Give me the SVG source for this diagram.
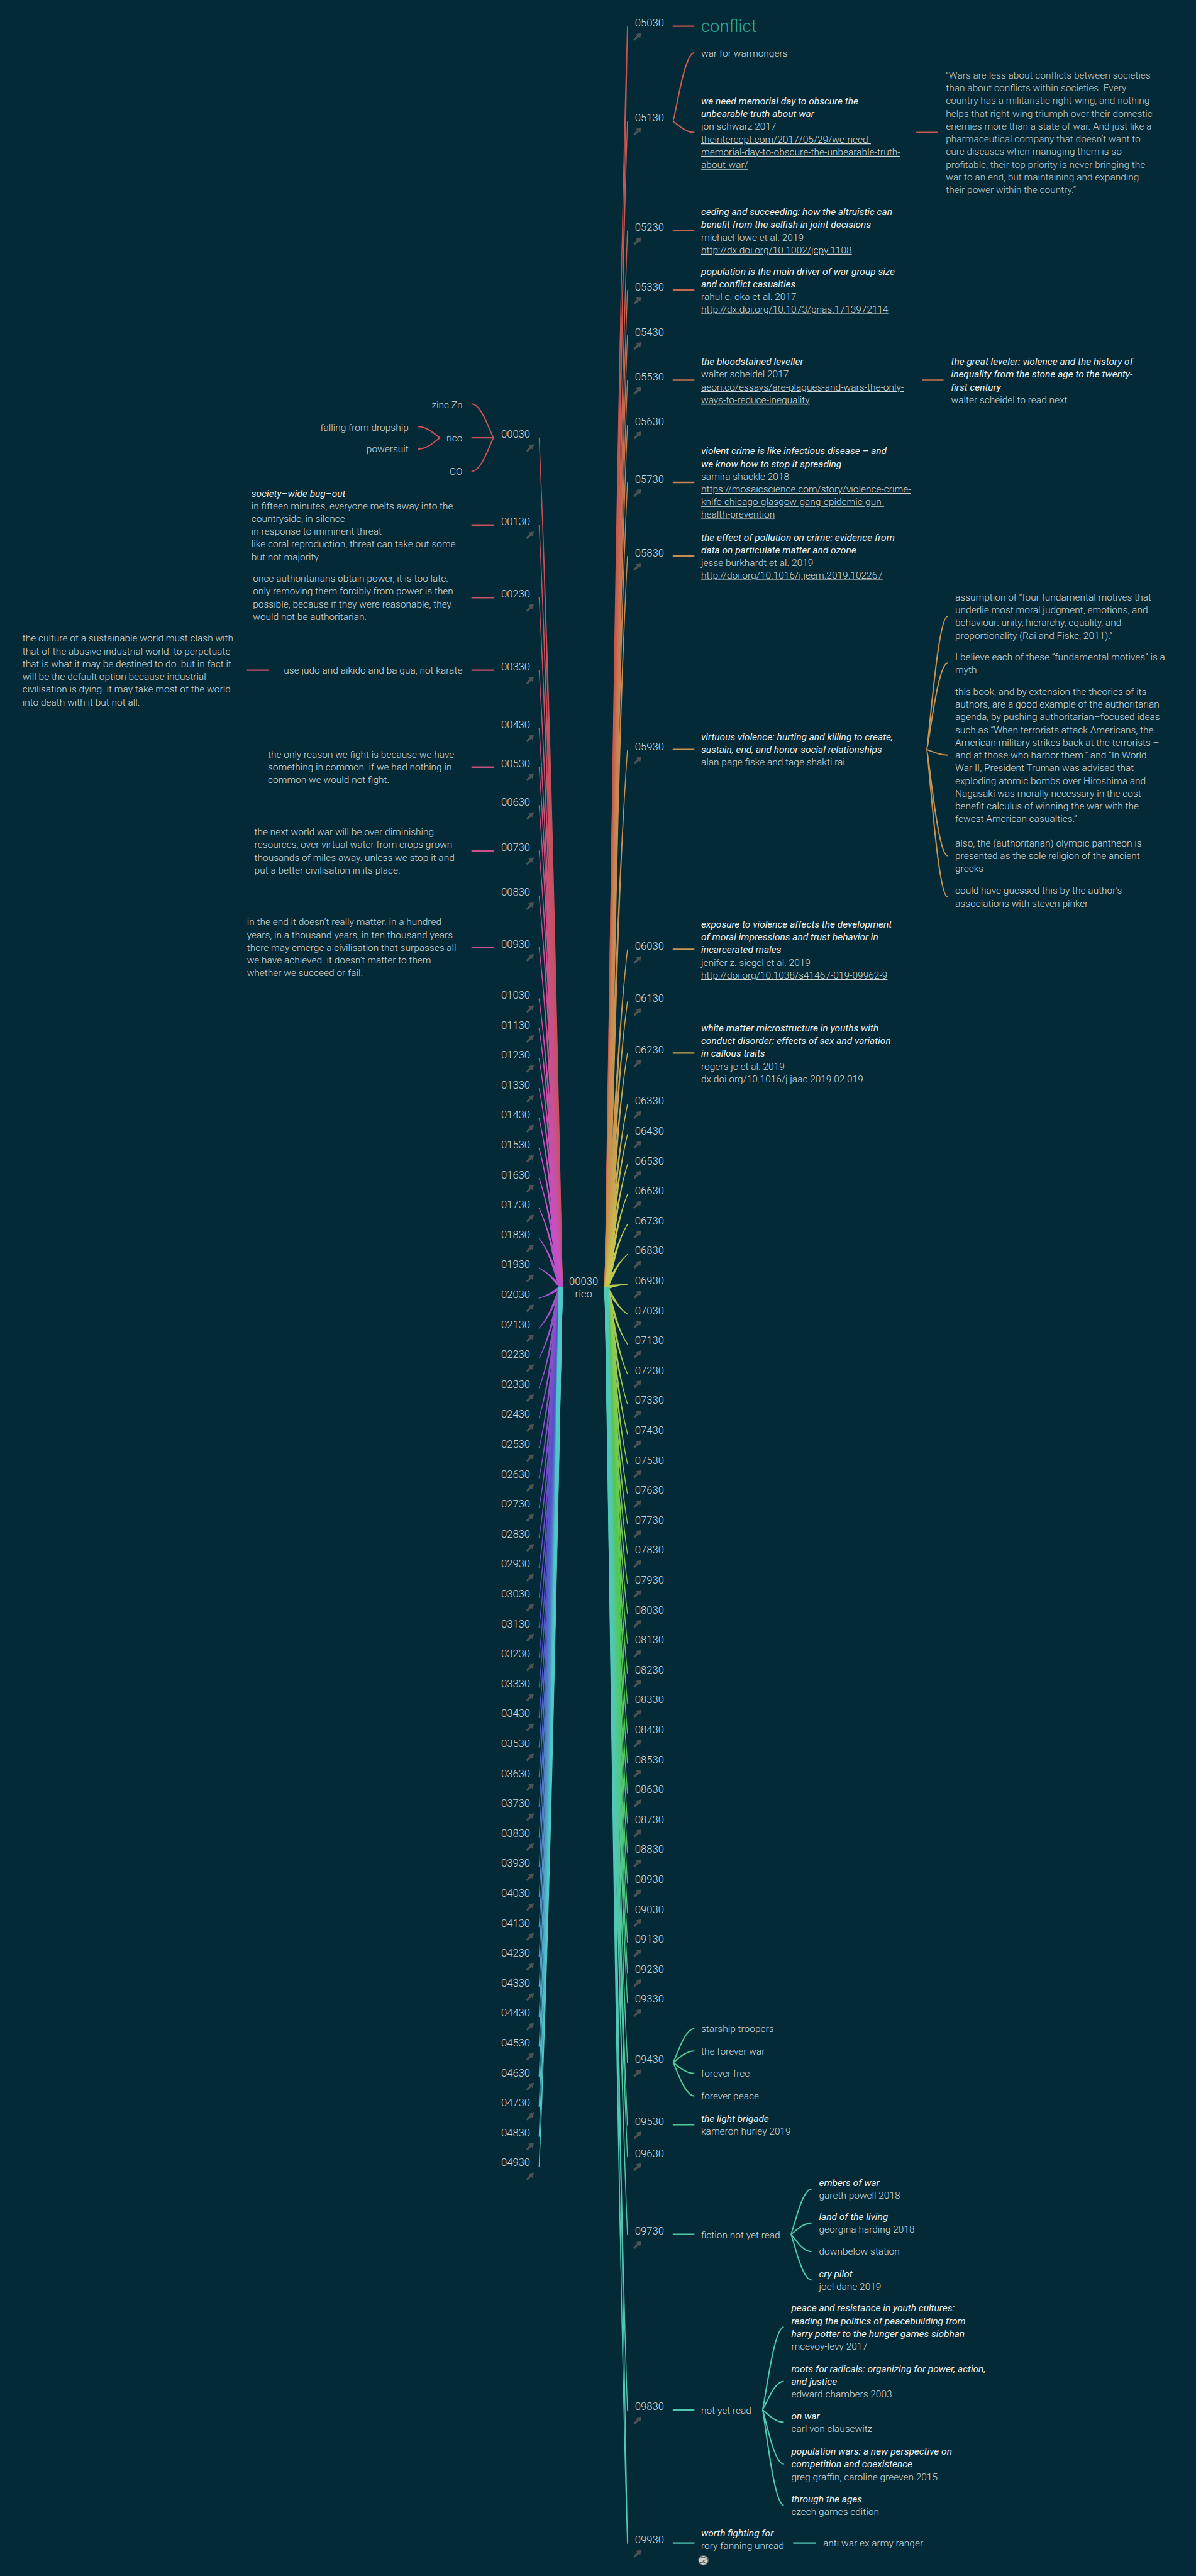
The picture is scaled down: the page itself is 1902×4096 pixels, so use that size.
<svg xmlns="http://www.w3.org/2000/svg" width="1902" height="4096" viewBox="0 0 1902 4096">
<style>
.n{font:300 28px Roboto,'Liberation Sans',sans-serif;fill:#d9dede}
.t{font:300 26px Roboto,'Liberation Sans',sans-serif;fill:#d3d9d9}
.i{font-style:italic;font-weight:400;fill:#eef1f1}
.u{text-decoration:underline}
.q{fill:#c4cccc}
.c{font-size:46px;fill:#2ea79b}
.e{text-anchor:end}
.m{text-anchor:middle}
.st{fill:none;stroke-width:4}
.br{fill:none;stroke-width:3.5}
.sl{stroke-width:2.4;stroke-linejoin:round}
</style>
<defs>
<path id="arr" d="M22,0 L19,15 L15,11 L5,21 L1,17 L11,7 L7,3 Z" fill="#4f5253"/>
</defs>
<rect width="1902" height="4096" fill="#032a36"/>
<g transform="scale(0.595)">
<g id="connectors">
<g id="strands-left" class="sl">
<path fill="hsl(356,52%,55%)" stroke="hsl(356,52%,55%)" d="M1441 1170 C1466 1738 1476 2419 1495 3440 L1503 3440 C1482 2419 1466 1738 1441 1170 Z"/>
<path fill="hsl(352,52%,55%)" stroke="hsl(352,52%,55%)" d="M1441 1403 C1466 1912 1476 2523 1495 3440 L1503 3440 C1482 2523 1466 1912 1441 1403 Z"/>
<path fill="hsl(349,52%,55%)" stroke="hsl(349,52%,55%)" d="M1441 1597 C1466 2058 1476 2611 1495 3440 L1503 3440 C1482 2611 1466 2058 1441 1597 Z"/>
<path fill="hsl(345,52%,55%)" stroke="hsl(345,52%,55%)" d="M1441 1791 C1466 2203 1476 2698 1495 3440 L1503 3440 C1482 2698 1466 2203 1441 1791 Z"/>
<path fill="hsl(342,52%,55%)" stroke="hsl(342,52%,55%)" d="M1441 1946 C1466 2320 1476 2768 1495 3440 L1503 3440 C1482 2768 1466 2320 1441 1946 Z"/>
<path fill="hsl(338,52%,55%)" stroke="hsl(338,52%,55%)" d="M1441 2050 C1466 2398 1476 2815 1495 3440 L1503 3440 C1482 2815 1466 2398 1441 2050 Z"/>
<path fill="hsl(334,52%,55%)" stroke="hsl(334,52%,55%)" d="M1441 2153 C1466 2475 1476 2861 1495 3440 L1503 3440 C1482 2861 1466 2475 1441 2153 Z"/>
<path fill="hsl(331,52%,55%)" stroke="hsl(331,52%,55%)" d="M1441 2274 C1466 2566 1476 2915 1495 3440 L1503 3440 C1482 2915 1466 2566 1441 2274 Z"/>
<path fill="hsl(327,52%,55%)" stroke="hsl(327,52%,55%)" d="M1441 2394 C1466 2656 1476 2969 1495 3440 L1503 3440 C1482 2969 1466 2656 1441 2394 Z"/>
<path fill="hsl(324,52%,55%)" stroke="hsl(324,52%,55%)" d="M1441 2532 C1466 2759 1476 3031 1495 3440 L1503 3440 C1482 3031 1466 2759 1441 2532 Z"/>
<path fill="hsl(320,52%,55%)" stroke="hsl(320,52%,55%)" d="M1441 2669 C1466 2862 1476 3093 1495 3440 L1503 3440 C1482 3093 1466 2862 1441 2669 Z"/>
<path fill="hsl(316,52%,55%)" stroke="hsl(316,52%,55%)" d="M1441 2749 C1466 2922 1476 3129 1495 3440 L1503 3440 C1482 3129 1466 2922 1441 2749 Z"/>
<path fill="hsl(313,52%,55%)" stroke="hsl(313,52%,55%)" d="M1441 2829 C1466 2982 1476 3165 1495 3440 L1503 3440 C1482 3165 1466 2982 1441 2829 Z"/>
<path fill="hsl(309,52%,55%)" stroke="hsl(309,52%,55%)" d="M1441 2909 C1466 3042 1476 3201 1495 3440 L1503 3440 C1482 3201 1466 3042 1441 2909 Z"/>
<path fill="hsl(306,52%,55%)" stroke="hsl(306,52%,55%)" d="M1441 2989 C1466 3102 1476 3237 1495 3440 L1503 3440 C1482 3237 1466 3102 1441 2989 Z"/>
<path fill="hsl(302,52%,55%)" stroke="hsl(302,52%,55%)" d="M1441 3069 C1466 3162 1476 3273 1495 3440 L1503 3440 C1482 3273 1466 3162 1441 3069 Z"/>
<path fill="hsl(298,52%,55%)" stroke="hsl(298,52%,55%)" d="M1441 3149 C1466 3222 1476 3309 1495 3440 L1503 3440 C1482 3309 1466 3222 1441 3149 Z"/>
<path fill="hsl(295,52%,55%)" stroke="hsl(295,52%,55%)" d="M1441 3229 C1466 3282 1476 3345 1495 3440 L1503 3440 C1482 3345 1466 3282 1441 3229 Z"/>
<path fill="hsl(291,52%,55%)" stroke="hsl(291,52%,55%)" d="M1441 3309 C1466 3342 1476 3381 1495 3440 L1503 3440 C1482 3381 1466 3342 1441 3309 Z"/>
<path fill="hsl(288,52%,55%)" stroke="hsl(288,52%,55%)" d="M1441 3389 C1466 3402 1476 3417 1495 3440 L1503 3440 C1482 3417 1466 3402 1441 3389 Z"/>
<path fill="hsl(284,52%,55%)" stroke="hsl(284,52%,55%)" d="M1441 3469 C1466 3462 1479 3450 1499 3436 L1499 3444 C1479 3456 1466 3462 1441 3469 Z"/>
<path fill="hsl(280,52%,55%)" stroke="hsl(280,52%,55%)" d="M1441 3549 C1466 3522 1476 3489 1495 3440 L1503 3440 C1482 3489 1466 3522 1441 3549 Z"/>
<path fill="hsl(277,52%,55%)" stroke="hsl(277,52%,55%)" d="M1441 3629 C1466 3582 1476 3525 1495 3440 L1503 3440 C1482 3525 1466 3582 1441 3629 Z"/>
<path fill="hsl(273,52%,55%)" stroke="hsl(273,52%,55%)" d="M1441 3709 C1466 3642 1476 3561 1495 3440 L1503 3440 C1482 3561 1466 3642 1441 3709 Z"/>
<path fill="hsl(270,52%,55%)" stroke="hsl(270,52%,55%)" d="M1441 3789 C1466 3702 1476 3597 1495 3440 L1503 3440 C1482 3597 1466 3702 1441 3789 Z"/>
<path fill="hsl(266,52%,55%)" stroke="hsl(266,52%,55%)" d="M1441 3869 C1466 3762 1476 3633 1495 3440 L1503 3440 C1482 3633 1466 3762 1441 3869 Z"/>
<path fill="hsl(262,52%,55%)" stroke="hsl(262,52%,55%)" d="M1441 3949 C1466 3822 1476 3669 1495 3440 L1503 3440 C1482 3669 1466 3822 1441 3949 Z"/>
<path fill="hsl(259,52%,55%)" stroke="hsl(259,52%,55%)" d="M1441 4029 C1466 3882 1476 3705 1495 3440 L1503 3440 C1482 3705 1466 3882 1441 4029 Z"/>
<path fill="hsl(255,52%,55%)" stroke="hsl(255,52%,55%)" d="M1441 4109 C1466 3942 1476 3741 1495 3440 L1503 3440 C1482 3741 1466 3942 1441 4109 Z"/>
<path fill="hsl(252,52%,55%)" stroke="hsl(252,52%,55%)" d="M1441 4189 C1466 4002 1476 3777 1495 3440 L1503 3440 C1482 3777 1466 4002 1441 4189 Z"/>
<path fill="hsl(248,52%,55%)" stroke="hsl(248,52%,55%)" d="M1441 4269 C1466 4062 1476 3813 1495 3440 L1503 3440 C1482 3813 1466 4062 1441 4269 Z"/>
<path fill="hsl(244,52%,55%)" stroke="hsl(244,52%,55%)" d="M1441 4349 C1466 4122 1476 3849 1495 3440 L1503 3440 C1482 3849 1466 4122 1441 4349 Z"/>
<path fill="hsl(241,52%,55%)" stroke="hsl(241,52%,55%)" d="M1441 4429 C1466 4182 1476 3885 1495 3440 L1503 3440 C1482 3885 1466 4182 1441 4429 Z"/>
<path fill="hsl(237,52%,55%)" stroke="hsl(237,52%,55%)" d="M1441 4509 C1466 4242 1476 3921 1495 3440 L1503 3440 C1482 3921 1466 4242 1441 4509 Z"/>
<path fill="hsl(234,52%,55%)" stroke="hsl(234,52%,55%)" d="M1441 4589 C1466 4302 1476 3957 1495 3440 L1503 3440 C1482 3957 1466 4302 1441 4589 Z"/>
<path fill="hsl(230,52%,55%)" stroke="hsl(230,52%,55%)" d="M1441 4669 C1466 4362 1476 3993 1495 3440 L1503 3440 C1482 3993 1466 4362 1441 4669 Z"/>
<path fill="hsl(226,52%,55%)" stroke="hsl(226,52%,55%)" d="M1441 4749 C1466 4422 1476 4029 1495 3440 L1503 3440 C1482 4029 1466 4422 1441 4749 Z"/>
<path fill="hsl(223,52%,55%)" stroke="hsl(223,52%,55%)" d="M1441 4829 C1466 4482 1476 4065 1495 3440 L1503 3440 C1482 4065 1466 4482 1441 4829 Z"/>
<path fill="hsl(219,52%,55%)" stroke="hsl(219,52%,55%)" d="M1441 4909 C1466 4542 1476 4101 1495 3440 L1503 3440 C1482 4101 1466 4542 1441 4909 Z"/>
<path fill="hsl(216,52%,55%)" stroke="hsl(216,52%,55%)" d="M1441 4989 C1466 4602 1476 4137 1495 3440 L1503 3440 C1482 4137 1466 4602 1441 4989 Z"/>
<path fill="hsl(212,52%,55%)" stroke="hsl(212,52%,55%)" d="M1441 5069 C1466 4662 1476 4173 1495 3440 L1503 3440 C1482 4173 1466 4662 1441 5069 Z"/>
<path fill="hsl(208,52%,55%)" stroke="hsl(208,52%,55%)" d="M1441 5149 C1466 4722 1476 4209 1495 3440 L1503 3440 C1482 4209 1466 4722 1441 5149 Z"/>
<path fill="hsl(205,52%,55%)" stroke="hsl(205,52%,55%)" d="M1441 5229 C1466 4782 1476 4245 1495 3440 L1503 3440 C1482 4245 1466 4782 1441 5229 Z"/>
<path fill="hsl(201,52%,55%)" stroke="hsl(201,52%,55%)" d="M1441 5309 C1466 4842 1476 4281 1495 3440 L1503 3440 C1482 4281 1466 4842 1441 5309 Z"/>
<path fill="hsl(198,52%,55%)" stroke="hsl(198,52%,55%)" d="M1441 5389 C1466 4902 1476 4317 1495 3440 L1503 3440 C1482 4317 1466 4902 1441 5389 Z"/>
<path fill="hsl(194,52%,55%)" stroke="hsl(194,52%,55%)" d="M1441 5469 C1466 4962 1476 4353 1495 3440 L1503 3440 C1482 4353 1466 4962 1441 5469 Z"/>
<path fill="hsl(190,52%,55%)" stroke="hsl(190,52%,55%)" d="M1441 5549 C1466 5022 1476 4389 1495 3440 L1503 3440 C1482 4389 1466 5022 1441 5549 Z"/>
<path fill="hsl(187,52%,55%)" stroke="hsl(187,52%,55%)" d="M1441 5629 C1466 5082 1476 4425 1495 3440 L1503 3440 C1482 4425 1466 5082 1441 5629 Z"/>
<path fill="hsl(183,52%,55%)" stroke="hsl(183,52%,55%)" d="M1441 5709 C1466 5142 1476 4461 1495 3440 L1503 3440 C1482 4461 1466 5142 1441 5709 Z"/>
<path fill="hsl(180,52%,55%)" stroke="hsl(180,52%,55%)" d="M1441 5789 C1466 5202 1476 4497 1495 3440 L1503 3440 C1482 4497 1466 5202 1441 5789 Z"/>
</g>
<g id="strands-right" class="sl">
<path fill="hsl(2,52%,55%)" stroke="hsl(2,52%,55%)" d="M1677 71 C1652 913 1644 1924 1625 3440 L1617 3440 C1638 1924 1652 913 1677 71 Z"/>
<path fill="hsl(5,52%,55%)" stroke="hsl(5,52%,55%)" d="M1677 324 C1652 1103 1644 2038 1625 3440 L1617 3440 C1638 2038 1652 1103 1677 324 Z"/>
<path fill="hsl(9,52%,55%)" stroke="hsl(9,52%,55%)" d="M1677 617 C1652 1323 1644 2170 1625 3440 L1617 3440 C1638 2170 1652 1323 1677 617 Z"/>
<path fill="hsl(12,52%,55%)" stroke="hsl(12,52%,55%)" d="M1677 776 C1652 1442 1644 2241 1625 3440 L1617 3440 C1638 2241 1652 1442 1677 776 Z"/>
<path fill="hsl(16,52%,55%)" stroke="hsl(16,52%,55%)" d="M1677 897 C1652 1533 1644 2296 1625 3440 L1617 3440 C1638 2296 1652 1533 1677 897 Z"/>
<path fill="hsl(19,52%,55%)" stroke="hsl(19,52%,55%)" d="M1677 1017 C1652 1623 1644 2350 1625 3440 L1617 3440 C1638 2350 1652 1623 1677 1017 Z"/>
<path fill="hsl(23,52%,55%)" stroke="hsl(23,52%,55%)" d="M1677 1136 C1652 1712 1644 2403 1625 3440 L1617 3440 C1638 2403 1652 1712 1677 1136 Z"/>
<path fill="hsl(26,52%,55%)" stroke="hsl(26,52%,55%)" d="M1677 1290 C1652 1828 1644 2473 1625 3440 L1617 3440 C1638 2473 1652 1828 1677 1290 Z"/>
<path fill="hsl(30,52%,55%)" stroke="hsl(30,52%,55%)" d="M1677 1487 C1652 1975 1644 2561 1625 3440 L1617 3440 C1638 2561 1652 1975 1677 1487 Z"/>
<path fill="hsl(33,52%,55%)" stroke="hsl(33,52%,55%)" d="M1677 2005 C1652 2364 1644 2794 1625 3440 L1617 3440 C1638 2794 1652 2364 1677 2005 Z"/>
<path fill="hsl(37,52%,55%)" stroke="hsl(37,52%,55%)" d="M1677 2538 C1652 2764 1644 3034 1625 3440 L1617 3440 C1638 3034 1652 2764 1677 2538 Z"/>
<path fill="hsl(40,52%,55%)" stroke="hsl(40,52%,55%)" d="M1677 2677 C1652 2868 1644 3097 1625 3440 L1617 3440 C1638 3097 1652 2868 1677 2677 Z"/>
<path fill="hsl(43,52%,55%)" stroke="hsl(43,52%,55%)" d="M1677 2815 C1652 2971 1644 3159 1625 3440 L1617 3440 C1638 3159 1652 2971 1677 2815 Z"/>
<path fill="hsl(47,52%,55%)" stroke="hsl(47,52%,55%)" d="M1677 2952 C1652 3074 1644 3220 1625 3440 L1617 3440 C1638 3220 1652 3074 1677 2952 Z"/>
<path fill="hsl(50,52%,55%)" stroke="hsl(50,52%,55%)" d="M1677 3032 C1652 3134 1644 3256 1625 3440 L1617 3440 C1638 3256 1652 3134 1677 3032 Z"/>
<path fill="hsl(54,52%,55%)" stroke="hsl(54,52%,55%)" d="M1677 3112 C1652 3194 1644 3292 1625 3440 L1617 3440 C1638 3292 1652 3194 1677 3112 Z"/>
<path fill="hsl(57,52%,55%)" stroke="hsl(57,52%,55%)" d="M1677 3192 C1652 3254 1644 3328 1625 3440 L1617 3440 C1638 3328 1652 3254 1677 3192 Z"/>
<path fill="hsl(61,52%,55%)" stroke="hsl(61,52%,55%)" d="M1677 3272 C1652 3314 1644 3364 1625 3440 L1617 3440 C1638 3364 1652 3314 1677 3272 Z"/>
<path fill="hsl(64,52%,55%)" stroke="hsl(64,52%,55%)" d="M1677 3352 C1652 3374 1644 3400 1625 3440 L1617 3440 C1638 3400 1652 3374 1677 3352 Z"/>
<path fill="hsl(68,52%,55%)" stroke="hsl(68,52%,55%)" d="M1677 3432 C1652 3434 1641 3433 1621 3436 L1621 3444 C1641 3439 1652 3434 1677 3432 Z"/>
<path fill="hsl(71,52%,55%)" stroke="hsl(71,52%,55%)" d="M1677 3512 C1652 3494 1644 3472 1625 3440 L1617 3440 C1638 3472 1652 3494 1677 3512 Z"/>
<path fill="hsl(74,52%,55%)" stroke="hsl(74,52%,55%)" d="M1677 3592 C1652 3554 1644 3508 1625 3440 L1617 3440 C1638 3508 1652 3554 1677 3592 Z"/>
<path fill="hsl(78,52%,55%)" stroke="hsl(78,52%,55%)" d="M1677 3672 C1652 3614 1644 3544 1625 3440 L1617 3440 C1638 3544 1652 3614 1677 3672 Z"/>
<path fill="hsl(81,52%,55%)" stroke="hsl(81,52%,55%)" d="M1677 3752 C1652 3674 1644 3580 1625 3440 L1617 3440 C1638 3580 1652 3674 1677 3752 Z"/>
<path fill="hsl(85,52%,55%)" stroke="hsl(85,52%,55%)" d="M1677 3832 C1652 3734 1644 3616 1625 3440 L1617 3440 C1638 3616 1652 3734 1677 3832 Z"/>
<path fill="hsl(88,52%,55%)" stroke="hsl(88,52%,55%)" d="M1677 3912 C1652 3794 1644 3652 1625 3440 L1617 3440 C1638 3652 1652 3794 1677 3912 Z"/>
<path fill="hsl(92,52%,55%)" stroke="hsl(92,52%,55%)" d="M1677 3992 C1652 3854 1644 3688 1625 3440 L1617 3440 C1638 3688 1652 3854 1677 3992 Z"/>
<path fill="hsl(95,52%,55%)" stroke="hsl(95,52%,55%)" d="M1677 4072 C1652 3914 1644 3724 1625 3440 L1617 3440 C1638 3724 1652 3914 1677 4072 Z"/>
<path fill="hsl(99,52%,55%)" stroke="hsl(99,52%,55%)" d="M1677 4152 C1652 3974 1644 3760 1625 3440 L1617 3440 C1638 3760 1652 3974 1677 4152 Z"/>
<path fill="hsl(102,52%,55%)" stroke="hsl(102,52%,55%)" d="M1677 4232 C1652 4034 1644 3796 1625 3440 L1617 3440 C1638 3796 1652 4034 1677 4232 Z"/>
<path fill="hsl(105,52%,55%)" stroke="hsl(105,52%,55%)" d="M1677 4312 C1652 4094 1644 3832 1625 3440 L1617 3440 C1638 3832 1652 4094 1677 4312 Z"/>
<path fill="hsl(109,52%,55%)" stroke="hsl(109,52%,55%)" d="M1677 4392 C1652 4154 1644 3868 1625 3440 L1617 3440 C1638 3868 1652 4154 1677 4392 Z"/>
<path fill="hsl(112,52%,55%)" stroke="hsl(112,52%,55%)" d="M1677 4472 C1652 4214 1644 3904 1625 3440 L1617 3440 C1638 3904 1652 4214 1677 4472 Z"/>
<path fill="hsl(116,52%,55%)" stroke="hsl(116,52%,55%)" d="M1677 4552 C1652 4274 1644 3940 1625 3440 L1617 3440 C1638 3940 1652 4274 1677 4552 Z"/>
<path fill="hsl(119,52%,55%)" stroke="hsl(119,52%,55%)" d="M1677 4632 C1652 4334 1644 3976 1625 3440 L1617 3440 C1638 3976 1652 4334 1677 4632 Z"/>
<path fill="hsl(123,52%,55%)" stroke="hsl(123,52%,55%)" d="M1677 4712 C1652 4394 1644 4012 1625 3440 L1617 3440 C1638 4012 1652 4394 1677 4712 Z"/>
<path fill="hsl(126,52%,55%)" stroke="hsl(126,52%,55%)" d="M1677 4792 C1652 4454 1644 4048 1625 3440 L1617 3440 C1638 4048 1652 4454 1677 4792 Z"/>
<path fill="hsl(130,52%,55%)" stroke="hsl(130,52%,55%)" d="M1677 4872 C1652 4514 1644 4084 1625 3440 L1617 3440 C1638 4084 1652 4514 1677 4872 Z"/>
<path fill="hsl(133,52%,55%)" stroke="hsl(133,52%,55%)" d="M1677 4952 C1652 4574 1644 4120 1625 3440 L1617 3440 C1638 4120 1652 4574 1677 4952 Z"/>
<path fill="hsl(136,52%,55%)" stroke="hsl(136,52%,55%)" d="M1677 5032 C1652 4634 1644 4156 1625 3440 L1617 3440 C1638 4156 1652 4634 1677 5032 Z"/>
<path fill="hsl(140,52%,55%)" stroke="hsl(140,52%,55%)" d="M1677 5112 C1652 4694 1644 4192 1625 3440 L1617 3440 C1638 4192 1652 4694 1677 5112 Z"/>
<path fill="hsl(143,52%,55%)" stroke="hsl(143,52%,55%)" d="M1677 5192 C1652 4754 1644 4228 1625 3440 L1617 3440 C1638 4228 1652 4754 1677 5192 Z"/>
<path fill="hsl(147,52%,55%)" stroke="hsl(147,52%,55%)" d="M1677 5272 C1652 4814 1644 4264 1625 3440 L1617 3440 C1638 4264 1652 4814 1677 5272 Z"/>
<path fill="hsl(150,52%,55%)" stroke="hsl(150,52%,55%)" d="M1677 5352 C1652 4874 1644 4300 1625 3440 L1617 3440 C1638 4300 1652 4874 1677 5352 Z"/>
<path fill="hsl(154,52%,55%)" stroke="hsl(154,52%,55%)" d="M1677 5513 C1652 4995 1644 4373 1625 3440 L1617 3440 C1638 4373 1652 4995 1677 5513 Z"/>
<path fill="hsl(157,52%,55%)" stroke="hsl(157,52%,55%)" d="M1677 5679 C1652 5119 1644 4448 1625 3440 L1617 3440 C1638 4448 1652 5119 1677 5679 Z"/>
<path fill="hsl(161,52%,55%)" stroke="hsl(161,52%,55%)" d="M1677 5764 C1652 5183 1644 4486 1625 3440 L1617 3440 C1638 4486 1652 5183 1677 5764 Z"/>
<path fill="hsl(164,52%,55%)" stroke="hsl(164,52%,55%)" d="M1677 5972 C1652 5339 1644 4579 1625 3440 L1617 3440 C1638 4579 1652 5339 1677 5972 Z"/>
<path fill="hsl(168,52%,55%)" stroke="hsl(168,52%,55%)" d="M1677 6441 C1652 5691 1644 4790 1625 3440 L1617 3440 C1638 4790 1652 5691 1677 6441 Z"/>
<path fill="hsl(171,52%,55%)" stroke="hsl(171,52%,55%)" d="M1677 6797 C1652 5958 1644 4951 1625 3440 L1617 3440 C1638 4951 1652 5958 1677 6797 Z"/>
</g>
<g id="stubs">
<path class="st" stroke="hsl(356,52%,55%)" d="M1260 1170 H1320"/>
<path class="st" stroke="hsl(352,52%,55%)" d="M1260 1403 H1320"/>
<path class="st" stroke="hsl(349,52%,55%)" d="M1260 1597 H1320"/>
<path class="st" stroke="hsl(345,52%,55%)" d="M1260 1791 H1320 M660 1791 H719"/>
<path class="st" stroke="hsl(338,52%,55%)" d="M1260 2050 H1320"/>
<path class="st" stroke="hsl(331,52%,55%)" d="M1260 2274 H1320"/>
<path class="st" stroke="hsl(324,52%,55%)" d="M1260 2532 H1320"/>
<path class="st" stroke="hsl(2,52%,55%)" d="M1798 70 H1856"/>
<path class="st" stroke="hsl(5,52%,55%)" d="M2449 354 H2506"/>
<path class="st" stroke="hsl(9,52%,55%)" d="M1798 616 H1856"/>
<path class="st" stroke="hsl(12,52%,55%)" d="M1798 775 H1856"/>
<path class="st" stroke="hsl(19,52%,55%)" d="M1798 1016 H1856 M2464 1016 H2522"/>
<path class="st" stroke="hsl(26,52%,55%)" d="M1798 1289 H1856"/>
<path class="st" stroke="hsl(30,52%,55%)" d="M1798 1486 H1856"/>
<path class="st" stroke="hsl(33,52%,55%)" d="M1798 2003 H1856"/>
<path class="st" stroke="hsl(37,52%,55%)" d="M1798 2537 H1856"/>
<path class="st" stroke="hsl(43,52%,55%)" d="M1798 2814 H1856"/>
<path class="st" stroke="hsl(157,52%,55%)" d="M1798 5678 H1856"/>
<path class="st" stroke="hsl(164,52%,55%)" d="M1798 5971 H1856"/>
<path class="st" stroke="hsl(168,52%,55%)" d="M1798 6440 H1856"/>
<path class="st" stroke="hsl(171,52%,55%)" d="M1798 6796 H1856 M2120 6796 H2180"/>
</g>
<g id="braces">
<path class="br" stroke="hsl(356,52%,55%)" d="M1320 1170 C1314 1170 1290 1079 1260 1079 M1320 1170 C1314 1170 1290 1260 1260 1260"/>
<path class="br" stroke="hsl(356,52%,55%)" d="M1177 1170 C1171 1170 1147 1140 1117 1140 M1177 1170 C1171 1170 1147 1200 1117 1200"/>
<path class="br" stroke="hsl(5,52%,55%)" d="M1798 324 C1804 324 1827 141 1856 141 M1798 324 C1804 324 1827 354 1856 354"/>
<path class="br" stroke="hsl(33,52%,55%)" d="M2476 2003 C2482 2003 2505 1647 2533 1647 M2476 2003 C2482 2003 2505 1772 2533 1772 M2476 2003 C2482 2003 2505 2018 2533 2018 M2476 2003 C2482 2003 2505 2287 2533 2287 M2476 2003 C2482 2003 2505 2397 2533 2397"/>
<path class="br" stroke="hsl(154,52%,55%)" d="M1798 5512 C1804 5512 1827 5421 1856 5421 M1798 5512 C1804 5512 1827 5481 1856 5481 M1798 5512 C1804 5512 1827 5541 1856 5541 M1798 5512 C1804 5512 1827 5601 1856 5601"/>
<path class="br" stroke="hsl(164,52%,55%)" d="M2113 5971 C2119 5971 2141 5850 2169 5850 M2113 5971 C2119 5971 2141 5941 2169 5941 M2113 5971 C2119 5971 2141 6017 2169 6017 M2113 5971 C2119 5971 2141 6093 2169 6093"/>
<path class="br" stroke="hsl(168,52%,55%)" d="M2037 6440 C2043 6440 2066 6219 2095 6219 M2037 6440 C2043 6440 2066 6364 2095 6364 M2037 6440 C2043 6440 2066 6473 2095 6473 M2037 6440 C2043 6440 2066 6585 2095 6585 M2037 6440 C2043 6440 2066 6695 2095 6695"/>
</g>
</g>

<g id="root"><text class="n m" x="1560" y="3433">00030</text><text class="n m" x="1560" y="3467">rico</text></g>

<g id="left-nodes">
<g id="n00030"><text class="n e" x="1417" y="1170">00030</text><use href="#arr" x="1405" y="1187"/></g>
<g id="n00130"><text class="n e" x="1417" y="1403">00130</text><use href="#arr" x="1405" y="1420"/></g>
<g id="n00230"><text class="n e" x="1417" y="1597">00230</text><use href="#arr" x="1405" y="1614"/></g>
<g id="n00330"><text class="n e" x="1417" y="1791">00330</text><use href="#arr" x="1405" y="1808"/></g>
<g id="n00430"><text class="n e" x="1417" y="1946">00430</text><use href="#arr" x="1405" y="1963"/></g>
<g id="n00530"><text class="n e" x="1417" y="2050">00530</text><use href="#arr" x="1405" y="2067"/></g>
<g id="n00630"><text class="n e" x="1417" y="2153">00630</text><use href="#arr" x="1405" y="2170"/></g>
<g id="n00730"><text class="n e" x="1417" y="2274">00730</text><use href="#arr" x="1405" y="2291"/></g>
<g id="n00830"><text class="n e" x="1417" y="2394">00830</text><use href="#arr" x="1405" y="2411"/></g>
<g id="n00930"><text class="n e" x="1417" y="2532">00930</text><use href="#arr" x="1405" y="2549"/></g>
<g id="n01030"><text class="n e" x="1417" y="2669">01030</text><use href="#arr" x="1405" y="2686"/></g>
<g id="n01130"><text class="n e" x="1417" y="2749">01130</text><use href="#arr" x="1405" y="2766"/></g>
<g id="n01230"><text class="n e" x="1417" y="2829">01230</text><use href="#arr" x="1405" y="2846"/></g>
<g id="n01330"><text class="n e" x="1417" y="2909">01330</text><use href="#arr" x="1405" y="2926"/></g>
<g id="n01430"><text class="n e" x="1417" y="2989">01430</text><use href="#arr" x="1405" y="3006"/></g>
<g id="n01530"><text class="n e" x="1417" y="3069">01530</text><use href="#arr" x="1405" y="3086"/></g>
<g id="n01630"><text class="n e" x="1417" y="3149">01630</text><use href="#arr" x="1405" y="3166"/></g>
<g id="n01730"><text class="n e" x="1417" y="3229">01730</text><use href="#arr" x="1405" y="3246"/></g>
<g id="n01830"><text class="n e" x="1417" y="3309">01830</text><use href="#arr" x="1405" y="3326"/></g>
<g id="n01930"><text class="n e" x="1417" y="3389">01930</text><use href="#arr" x="1405" y="3406"/></g>
<g id="n02030"><text class="n e" x="1417" y="3469">02030</text><use href="#arr" x="1405" y="3486"/></g>
<g id="n02130"><text class="n e" x="1417" y="3549">02130</text><use href="#arr" x="1405" y="3566"/></g>
<g id="n02230"><text class="n e" x="1417" y="3629">02230</text><use href="#arr" x="1405" y="3646"/></g>
<g id="n02330"><text class="n e" x="1417" y="3709">02330</text><use href="#arr" x="1405" y="3726"/></g>
<g id="n02430"><text class="n e" x="1417" y="3789">02430</text><use href="#arr" x="1405" y="3806"/></g>
<g id="n02530"><text class="n e" x="1417" y="3869">02530</text><use href="#arr" x="1405" y="3886"/></g>
<g id="n02630"><text class="n e" x="1417" y="3949">02630</text><use href="#arr" x="1405" y="3966"/></g>
<g id="n02730"><text class="n e" x="1417" y="4029">02730</text><use href="#arr" x="1405" y="4046"/></g>
<g id="n02830"><text class="n e" x="1417" y="4109">02830</text><use href="#arr" x="1405" y="4126"/></g>
<g id="n02930"><text class="n e" x="1417" y="4189">02930</text><use href="#arr" x="1405" y="4206"/></g>
<g id="n03030"><text class="n e" x="1417" y="4269">03030</text><use href="#arr" x="1405" y="4286"/></g>
<g id="n03130"><text class="n e" x="1417" y="4349">03130</text><use href="#arr" x="1405" y="4366"/></g>
<g id="n03230"><text class="n e" x="1417" y="4429">03230</text><use href="#arr" x="1405" y="4446"/></g>
<g id="n03330"><text class="n e" x="1417" y="4509">03330</text><use href="#arr" x="1405" y="4526"/></g>
<g id="n03430"><text class="n e" x="1417" y="4589">03430</text><use href="#arr" x="1405" y="4606"/></g>
<g id="n03530"><text class="n e" x="1417" y="4669">03530</text><use href="#arr" x="1405" y="4686"/></g>
<g id="n03630"><text class="n e" x="1417" y="4749">03630</text><use href="#arr" x="1405" y="4766"/></g>
<g id="n03730"><text class="n e" x="1417" y="4829">03730</text><use href="#arr" x="1405" y="4846"/></g>
<g id="n03830"><text class="n e" x="1417" y="4909">03830</text><use href="#arr" x="1405" y="4926"/></g>
<g id="n03930"><text class="n e" x="1417" y="4989">03930</text><use href="#arr" x="1405" y="5006"/></g>
<g id="n04030"><text class="n e" x="1417" y="5069">04030</text><use href="#arr" x="1405" y="5086"/></g>
<g id="n04130"><text class="n e" x="1417" y="5149">04130</text><use href="#arr" x="1405" y="5166"/></g>
<g id="n04230"><text class="n e" x="1417" y="5229">04230</text><use href="#arr" x="1405" y="5246"/></g>
<g id="n04330"><text class="n e" x="1417" y="5309">04330</text><use href="#arr" x="1405" y="5326"/></g>
<g id="n04430"><text class="n e" x="1417" y="5389">04430</text><use href="#arr" x="1405" y="5406"/></g>
<g id="n04530"><text class="n e" x="1417" y="5469">04530</text><use href="#arr" x="1405" y="5486"/></g>
<g id="n04630"><text class="n e" x="1417" y="5549">04630</text><use href="#arr" x="1405" y="5566"/></g>
<g id="n04730"><text class="n e" x="1417" y="5629">04730</text><use href="#arr" x="1405" y="5646"/></g>
<g id="n04830"><text class="n e" x="1417" y="5709">04830</text><use href="#arr" x="1405" y="5726"/></g>
<g id="n04930"><text class="n e" x="1417" y="5789">04930</text><use href="#arr" x="1405" y="5806"/></g>
</g>

<g id="right-nodes">
<g id="n05030"><text class="n" x="1697" y="71">05030</text><use href="#arr" x="1692" y="88"/></g>
<g id="n05130"><text class="n" x="1697" y="324">05130</text><use href="#arr" x="1692" y="341"/></g>
<g id="n05230"><text class="n" x="1697" y="617">05230</text><use href="#arr" x="1692" y="634"/></g>
<g id="n05330"><text class="n" x="1697" y="776">05330</text><use href="#arr" x="1692" y="793"/></g>
<g id="n05430"><text class="n" x="1697" y="897">05430</text><use href="#arr" x="1692" y="914"/></g>
<g id="n05530"><text class="n" x="1697" y="1017">05530</text><use href="#arr" x="1692" y="1034"/></g>
<g id="n05630"><text class="n" x="1697" y="1136">05630</text><use href="#arr" x="1692" y="1153"/></g>
<g id="n05730"><text class="n" x="1697" y="1290">05730</text><use href="#arr" x="1692" y="1307"/></g>
<g id="n05830"><text class="n" x="1697" y="1487">05830</text><use href="#arr" x="1692" y="1504"/></g>
<g id="n05930"><text class="n" x="1697" y="2005">05930</text><use href="#arr" x="1692" y="2022"/></g>
<g id="n06030"><text class="n" x="1697" y="2538">06030</text><use href="#arr" x="1692" y="2555"/></g>
<g id="n06130"><text class="n" x="1697" y="2677">06130</text><use href="#arr" x="1692" y="2694"/></g>
<g id="n06230"><text class="n" x="1697" y="2815">06230</text><use href="#arr" x="1692" y="2832"/></g>
<g id="n06330"><text class="n" x="1697" y="2952">06330</text><use href="#arr" x="1692" y="2969"/></g>
<g id="n06430"><text class="n" x="1697" y="3032">06430</text><use href="#arr" x="1692" y="3049"/></g>
<g id="n06530"><text class="n" x="1697" y="3112">06530</text><use href="#arr" x="1692" y="3129"/></g>
<g id="n06630"><text class="n" x="1697" y="3192">06630</text><use href="#arr" x="1692" y="3209"/></g>
<g id="n06730"><text class="n" x="1697" y="3272">06730</text><use href="#arr" x="1692" y="3289"/></g>
<g id="n06830"><text class="n" x="1697" y="3352">06830</text><use href="#arr" x="1692" y="3369"/></g>
<g id="n06930"><text class="n" x="1697" y="3432">06930</text><use href="#arr" x="1692" y="3449"/></g>
<g id="n07030"><text class="n" x="1697" y="3512">07030</text><use href="#arr" x="1692" y="3529"/></g>
<g id="n07130"><text class="n" x="1697" y="3592">07130</text><use href="#arr" x="1692" y="3609"/></g>
<g id="n07230"><text class="n" x="1697" y="3672">07230</text><use href="#arr" x="1692" y="3689"/></g>
<g id="n07330"><text class="n" x="1697" y="3752">07330</text><use href="#arr" x="1692" y="3769"/></g>
<g id="n07430"><text class="n" x="1697" y="3832">07430</text><use href="#arr" x="1692" y="3849"/></g>
<g id="n07530"><text class="n" x="1697" y="3912">07530</text><use href="#arr" x="1692" y="3929"/></g>
<g id="n07630"><text class="n" x="1697" y="3992">07630</text><use href="#arr" x="1692" y="4009"/></g>
<g id="n07730"><text class="n" x="1697" y="4072">07730</text><use href="#arr" x="1692" y="4089"/></g>
<g id="n07830"><text class="n" x="1697" y="4152">07830</text><use href="#arr" x="1692" y="4169"/></g>
<g id="n07930"><text class="n" x="1697" y="4232">07930</text><use href="#arr" x="1692" y="4249"/></g>
<g id="n08030"><text class="n" x="1697" y="4312">08030</text><use href="#arr" x="1692" y="4329"/></g>
<g id="n08130"><text class="n" x="1697" y="4392">08130</text><use href="#arr" x="1692" y="4409"/></g>
<g id="n08230"><text class="n" x="1697" y="4472">08230</text><use href="#arr" x="1692" y="4489"/></g>
<g id="n08330"><text class="n" x="1697" y="4552">08330</text><use href="#arr" x="1692" y="4569"/></g>
<g id="n08430"><text class="n" x="1697" y="4632">08430</text><use href="#arr" x="1692" y="4649"/></g>
<g id="n08530"><text class="n" x="1697" y="4712">08530</text><use href="#arr" x="1692" y="4729"/></g>
<g id="n08630"><text class="n" x="1697" y="4792">08630</text><use href="#arr" x="1692" y="4809"/></g>
<g id="n08730"><text class="n" x="1697" y="4872">08730</text><use href="#arr" x="1692" y="4889"/></g>
<g id="n08830"><text class="n" x="1697" y="4952">08830</text><use href="#arr" x="1692" y="4969"/></g>
<g id="n08930"><text class="n" x="1697" y="5032">08930</text><use href="#arr" x="1692" y="5049"/></g>
<g id="n09030"><text class="n" x="1697" y="5112">09030</text><use href="#arr" x="1692" y="5129"/></g>
<g id="n09130"><text class="n" x="1697" y="5192">09130</text><use href="#arr" x="1692" y="5209"/></g>
<g id="n09230"><text class="n" x="1697" y="5272">09230</text><use href="#arr" x="1692" y="5289"/></g>
<g id="n09330"><text class="n" x="1697" y="5352">09330</text><use href="#arr" x="1692" y="5369"/></g>
<g id="n09430"><text class="n" x="1697" y="5513">09430</text><use href="#arr" x="1692" y="5530"/></g>
<g id="n09530"><text class="n" x="1697" y="5679">09530</text><use href="#arr" x="1692" y="5696"/></g>
<g id="n09630"><text class="n" x="1697" y="5764">09630</text><use href="#arr" x="1692" y="5781"/></g>
<g id="n09730"><text class="n" x="1697" y="5972">09730</text><use href="#arr" x="1692" y="5989"/></g>
<g id="n09830"><text class="n" x="1697" y="6441">09830</text><use href="#arr" x="1692" y="6458"/></g>
<g id="n09930"><text class="n" x="1697" y="6797">09930</text><use href="#arr" x="1692" y="6814"/></g>
</g>

<g id="left-texts">
<g id="t-zinc"><text class="t e" x="1236" y="1090">zinc Zn</text></g>
<g id="t-rico"><text class="t e" x="1236" y="1180">rico</text></g>
<g id="t-co"><text class="t e" x="1236" y="1269">CO</text></g>
<g id="t-falling"><text class="t e" x="1092" y="1152">falling from dropship</text></g>
<g id="t-powersuit"><text class="t e" x="1092" y="1209">powersuit</text></g>
<g id="t00130"><text class="t"><tspan class="i" x="672" y="1327">society–wide bug–out</tspan><tspan x="672" y="1361">in fifteen minutes, everyone melts away into the</tspan><tspan x="672" y="1395">countryside, in silence</tspan><tspan x="672" y="1429">in response to imminent threat</tspan><tspan x="672" y="1463">like coral reproduction, threat can take out some</tspan><tspan x="672" y="1497">but not majority</tspan></text></g>
<g id="t00230"><text class="t"><tspan x="676" y="1555">once authoritarians obtain power, it is too late.</tspan><tspan x="676" y="1589">only removing them forcibly from power is then</tspan><tspan x="676" y="1623">possible, because if they were reasonable, they</tspan><tspan x="676" y="1657">would not be authoritarian.</tspan></text></g>
<g id="t00330a"><text class="t e" x="1236" y="1800">use judo and aikido and ba gua, not karate</text></g>
<g id="t00330b"><text class="t"><tspan x="60" y="1715">the culture of a sustainable world must clash with</tspan><tspan x="60" y="1749">that of the abusive industrial world. to perpetuate</tspan><tspan x="60" y="1783">that is what it may be destined to do. but in fact it</tspan><tspan x="60" y="1817">will be the default option because industrial</tspan><tspan x="60" y="1851">civilisation is dying. it may take most of the world</tspan><tspan x="60" y="1885">into death with it but not all.</tspan></text></g>
<g id="t00530"><text class="t"><tspan x="716" y="2025">the only reason we fight is because we have</tspan><tspan x="716" y="2059">something in common. if we had nothing in</tspan><tspan x="716" y="2093">common we would not fight.</tspan></text></g>
<g id="t00730"><text class="t"><tspan x="680" y="2232">the next world war will be over diminishing</tspan><tspan x="680" y="2266">resources, over virtual water from crops grown</tspan><tspan x="680" y="2300">thousands of miles away. unless we stop it and</tspan><tspan x="680" y="2334">put a better civilisation in its place.</tspan></text></g>
<g id="t00930"><text class="t"><tspan x="660" y="2473">in the end it doesn’t really matter. in a hundred</tspan><tspan x="660" y="2507">years, in a thousand years, in ten thousand years</tspan><tspan x="660" y="2541">there may emerge a civilisation that surpasses all</tspan><tspan x="660" y="2575">we have achieved. it doesn’t matter to them</tspan><tspan x="660" y="2609">whether we succeed or fail.</tspan></text></g>
</g>

<g id="right-texts">
<g id="t05030"><text class="t c" x="1874" y="86">conflict</text></g>
<g id="t05130a"><text class="t" x="1874" y="152">war for warmongers</text></g>
<g id="t05130b"><text class="t"><tspan class="i" x="1874" y="279">we need memorial day to obscure the</tspan><tspan class="i" x="1874" y="313">unbearable truth about war</tspan><tspan x="1874" y="347">jon schwarz 2017</tspan><tspan class="u" x="1874" y="381">theintercept.com/2017/05/29/we-need-</tspan><tspan class="u" x="1874" y="415">memorial-day-to-obscure-the-unbearable-truth-</tspan><tspan class="u" x="1874" y="449">about-war/</tspan></text></g>
<g id="t05130c"><text class="t q"><tspan x="2528" y="210">“Wars are less about conflicts between societies</tspan><tspan x="2528" y="244">than about conflicts within societies. Every</tspan><tspan x="2528" y="278">country has a militaristic right-wing, and nothing</tspan><tspan x="2528" y="312">helps that right-wing triumph over their domestic</tspan><tspan x="2528" y="346">enemies more than a state of war. And just like a</tspan><tspan x="2528" y="380">pharmaceutical company that doesn’t want to</tspan><tspan x="2528" y="414">cure diseases when managing them is so</tspan><tspan x="2528" y="448">profitable, their top priority is never bringing the</tspan><tspan x="2528" y="482">war to an end, but maintaining and expanding</tspan><tspan x="2528" y="516">their power within the country.”</tspan></text></g>
<g id="t05230"><text class="t"><tspan class="i" x="1874" y="575">ceding and succeeding: how the altruistic can</tspan><tspan class="i" x="1874" y="609">benefit from the selfish in joint decisions</tspan><tspan x="1874" y="643">michael lowe et al. 2019</tspan><tspan class="u" x="1874" y="677">http://dx.doi.org/10.1002/jcpy.1108</tspan></text></g>
<g id="t05330"><text class="t"><tspan class="i" x="1874" y="734">population is the main driver of war group size</tspan><tspan class="i" x="1874" y="768">and conflict casualties</tspan><tspan x="1874" y="802">rahul c. oka et al. 2017</tspan><tspan class="u" x="1874" y="836">http://dx.doi.org/10.1073/pnas.1713972114</tspan></text></g>
<g id="t05530a"><text class="t"><tspan class="i" x="1874" y="975">the bloodstained leveller</tspan><tspan x="1874" y="1009">walter scheidel 2017</tspan><tspan class="u" x="1874" y="1043">aeon.co/essays/are-plagues-and-wars-the-only-</tspan><tspan class="u" x="1874" y="1077">ways-to-reduce-inequality</tspan></text></g>
<g id="t05530b"><text class="t"><tspan class="i" x="2542" y="975">the great leveler: violence and the history of</tspan><tspan class="i" x="2542" y="1009">inequality from the stone age to the twenty-</tspan><tspan class="i" x="2542" y="1043">first century</tspan><tspan x="2542" y="1077">walter scheidel to read next</tspan></text></g>
<g id="t05730"><text class="t"><tspan class="i" x="1874" y="1214">violent crime is like infectious disease – and</tspan><tspan class="i" x="1874" y="1248">we know how to stop it spreading</tspan><tspan x="1874" y="1282">samira shackle 2018</tspan><tspan class="u" x="1874" y="1316">https://mosaicscience.com/story/violence-crime-</tspan><tspan class="u" x="1874" y="1350">knife-chicago-glasgow-gang-epidemic-gun-</tspan><tspan class="u" x="1874" y="1384">health-prevention</tspan></text></g>
<g id="t05830"><text class="t"><tspan class="i" x="1874" y="1445">the effect of pollution on crime: evidence from</tspan><tspan class="i" x="1874" y="1479">data on particulate matter and ozone</tspan><tspan x="1874" y="1513">jesse burkhardt et al. 2019</tspan><tspan class="u" x="1874" y="1547">http://doi.org/10.1016/j.jeem.2019.102267</tspan></text></g>
<g id="t05930"><text class="t"><tspan class="i" x="1874" y="1978">virtuous violence: hurting and killing to create,</tspan><tspan class="i" x="1874" y="2012">sustain, end, and honor social relationships</tspan><tspan x="1874" y="2046">alan page fiske and tage shakti rai</tspan></text></g>
<g id="t05930-1"><text class="t"><tspan x="2553" y="1605">assumption of “four fundamental motives that</tspan><tspan x="2553" y="1639">underlie most moral judgment, emotions, and</tspan><tspan x="2553" y="1673">behaviour: unity, hierarchy, equality, and</tspan><tspan x="2553" y="1707">proportionality (Rai and Fiske, 2011).”</tspan></text></g>
<g id="t05930-2"><text class="t"><tspan x="2553" y="1764">I believe each of these “fundamental motives” is a</tspan><tspan x="2553" y="1798">myth</tspan></text></g>
<g id="t05930-3"><text class="t"><tspan x="2553" y="1857">this book, and by extension the theories of its</tspan><tspan x="2553" y="1891">authors, are a good example of the authoritarian</tspan><tspan x="2553" y="1925">agenda, by pushing authoritarian–focused ideas</tspan><tspan x="2553" y="1959">such as “When terrorists attack Americans, the</tspan><tspan x="2553" y="1993">American military strikes back at the terrorists –</tspan><tspan x="2553" y="2027">and at those who harbor them.” and “In World</tspan><tspan x="2553" y="2061">War II, President Truman was advised that</tspan><tspan x="2553" y="2095">exploding atomic bombs over Hiroshima and</tspan><tspan x="2553" y="2129">Nagasaki was morally necessary in the cost-</tspan><tspan x="2553" y="2163">benefit calculus of winning the war with the</tspan><tspan x="2553" y="2197">fewest American casualties.”</tspan></text></g>
<g id="t05930-4"><text class="t"><tspan x="2553" y="2262">also, the (authoritarian) olympic pantheon is</tspan><tspan x="2553" y="2296">presented as the sole religion of the ancient</tspan><tspan x="2553" y="2330">greeks</tspan></text></g>
<g id="t05930-5"><text class="t"><tspan x="2553" y="2389">could have guessed this by the author’s</tspan><tspan x="2553" y="2423">associations with steven pinker</tspan></text></g>
<g id="t06030"><text class="t"><tspan class="i" x="1874" y="2479">exposure to violence affects the development</tspan><tspan class="i" x="1874" y="2513">of moral impressions and trust behavior in</tspan><tspan class="i" x="1874" y="2547">incarcerated males</tspan><tspan x="1874" y="2581">jenifer z. siegel et al. 2019</tspan><tspan class="u" x="1874" y="2615">http://doi.org/10.1038/s41467-019-09962-9</tspan></text></g>
<g id="t06230"><text class="t"><tspan class="i" x="1874" y="2756">white matter microstructure in youths with</tspan><tspan class="i" x="1874" y="2790">conduct disorder: effects of sex and variation</tspan><tspan class="i" x="1874" y="2824">in callous traits</tspan><tspan x="1874" y="2858">rogers jc et al. 2019</tspan><tspan x="1874" y="2892">dx.doi.org/10.1016/j.jaac.2019.02.019</tspan></text></g>
<g id="t09430-1"><text class="t" x="1874" y="5430">starship troopers</text></g>
<g id="t09430-2"><text class="t" x="1874" y="5490">the forever war</text></g>
<g id="t09430-3"><text class="t" x="1874" y="5550">forever free</text></g>
<g id="t09430-4"><text class="t" x="1874" y="5610">forever peace</text></g>
<g id="t09530"><text class="t"><tspan class="i" x="1874" y="5671">the light brigade</tspan><tspan x="1874" y="5705">kameron hurley 2019</tspan></text></g>
<g id="t09730"><text class="t" x="1874" y="5981">fiction not yet read</text></g>
<g id="t09730-1"><text class="t"><tspan class="i" x="2189" y="5842">embers of war</tspan><tspan x="2189" y="5876">gareth powell 2018</tspan></text></g>
<g id="t09730-2"><text class="t"><tspan class="i" x="2189" y="5933">land of the living</tspan><tspan x="2189" y="5967">georgina harding 2018</tspan></text></g>
<g id="t09730-3"><text class="t" x="2189" y="6026">downbelow station</text></g>
<g id="t09730-4"><text class="t"><tspan class="i" x="2189" y="6085">cry pilot</tspan><tspan x="2189" y="6119">joel dane 2019</tspan></text></g>
<g id="t09830"><text class="t" x="1874" y="6450">not yet read</text></g>
<g id="t09830-1"><text class="t"><tspan class="i" x="2115" y="6177">peace and resistance in youth cultures:</tspan><tspan class="i" x="2115" y="6211">reading the politics of peacebuilding from</tspan><tspan class="i" x="2115" y="6245">harry potter to the hunger games siobhan</tspan><tspan x="2115" y="6279">mcevoy-levy 2017</tspan></text></g>
<g id="t09830-2"><text class="t"><tspan class="i" x="2115" y="6339">roots for radicals: organizing for power, action,</tspan><tspan class="i" x="2115" y="6373">and justice</tspan><tspan x="2115" y="6407">edward chambers 2003</tspan></text></g>
<g id="t09830-3"><text class="t"><tspan class="i" x="2115" y="6465">on war</tspan><tspan x="2115" y="6499">carl von clausewitz</tspan></text></g>
<g id="t09830-4"><text class="t"><tspan class="i" x="2115" y="6560">population wars: a new perspective on</tspan><tspan class="i" x="2115" y="6594">competition and coexistence</tspan><tspan x="2115" y="6628">greg graffin, caroline greeven 2015</tspan></text></g>
<g id="t09830-5"><text class="t"><tspan class="i" x="2115" y="6687">through the ages</tspan><tspan x="2115" y="6721">czech games edition</tspan></text></g>
<g id="t09930"><text class="t"><tspan class="i" x="1874" y="6778">worth fighting for</tspan><tspan x="1874" y="6812">rory fanning unread</tspan></text>
<circle cx="1880" cy="6842" r="13" fill="#cfd3d3" stroke="#555" stroke-width="2.5"/><path d="M1871 6838 q6 -7 15 -2 q3 4 -3 6 q-5 1 -4 5 M1872 6847 q6 4 13 0" fill="none" stroke="#555" stroke-width="2"/></g>
<g id="t09930-1"><text class="t" x="2200" y="6805">anti war ex army ranger</text></g>
</g>
</g>
</svg>
